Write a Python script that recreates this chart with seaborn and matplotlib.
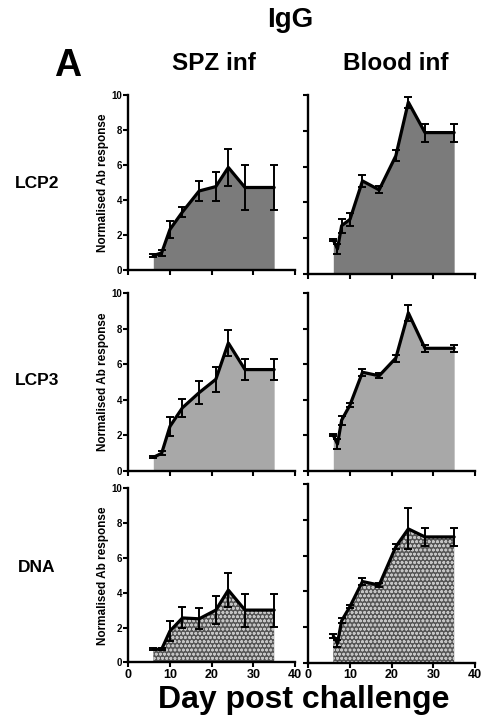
import numpy as np
import seaborn as sns
import pandas as pd
import matplotlib.pyplot as plt

sns.set_theme(style="ticks")
plt.rcParams["font.family"] = ["Liberation Sans", "DejaVu Sans"]
plt.rcParams["font.weight"] = "bold"
plt.rcParams["text.color"] = "black"
plt.rcParams["axes.labelcolor"] = "black"
plt.rcParams["xtick.color"] = "black"
plt.rcParams["ytick.color"] = "black"
plt.rcParams["hatch.linewidth"] = 0.8

# days post challenge
days_spz = [6, 8, 10, 13, 17, 21, 24, 28, 35]
days_blood = [6, 7, 8, 10, 13, 17, 21, 24, 28, 35]

# LCP2
lcp2_spz = [0.8, 0.95, 2.3, 3.3, 4.5, 4.75, 5.85, 4.7, 4.7]
lcp2_spz_err = [0.08, 0.15, 0.5, 0.3, 0.6, 0.85, 1.05, 1.3, 1.3]
lcp2_blood = [1.9, 1.4, 2.7, 3.05, 5.2, 4.7, 6.6, 9.6, 7.9, 7.9]
lcp2_blood_err = [0.08, 0.3, 0.4, 0.35, 0.35, 0.2, 0.3, 0.3, 0.5, 0.5]

# LCP3
lcp3_spz = [0.75, 0.98, 2.5, 3.55, 4.4, 5.15, 7.2, 5.7, 5.7]
lcp3_spz_err = [0.06, 0.12, 0.55, 0.5, 0.65, 0.7, 0.75, 0.6, 0.6]
lcp3_blood = [2.0, 1.5, 2.85, 3.7, 5.55, 5.35, 6.35, 8.9, 6.9, 6.9]
lcp3_blood_err = [0.06, 0.3, 0.25, 0.1, 0.2, 0.15, 0.2, 0.45, 0.2, 0.2]

# DNA
dna_spz = [0.75, 0.75, 1.8, 2.55, 2.5, 3.0, 4.15, 3.0, 3.0]
dna_spz_err = [0.05, 0.05, 0.6, 0.6, 0.6, 0.8, 1.0, 0.95, 0.95]
dna_blood = [1.5, 1.1, 2.35, 3.15, 4.55, 4.35, 6.5, 7.5, 7.05, 7.05]
dna_blood_err = [0.1, 0.2, 0.15, 0.1, 0.2, 0.1, 0.15, 1.15, 0.5, 0.5]

rows = ["LCP2", "LCP3", "DNA"]
cols = ["SPZ inf", "Blood inf"]

W, H = 482, 722
fig = plt.figure(figsize=(W / 100, H / 100), dpi=100)


def box(x0, x1, ytop, ybot):
    return [x0 / W, 1 - ybot / H, (x1 - x0) / W, (ybot - ytop) / H]


positions = [
    [box(128.3, 295, 95, 269.5), box(308.3, 475, 95, 274)],
    [box(128.3, 295, 293.3, 470.7), box(308.3, 475, 293.3, 470.7)],
    [box(128.3, 295, 488.3, 662.3), box(308.3, 475, 484.3, 662.7)],
]

panel_data = [
    [(days_spz, lcp2_spz, lcp2_spz_err), (days_blood, lcp2_blood, lcp2_blood_err)],
    [(days_spz, lcp3_spz, lcp3_spz_err), (days_blood, lcp3_blood, lcp3_blood_err)],
    [(days_spz, dna_spz, dna_spz_err), (days_blood, dna_blood, dna_blood_err)],
]

fills = ["#7b7b7b", "#a8a8a8", "#555555"]

for r in range(3):
    for c in range(2):
        ax = fig.add_axes(positions[r][c])
        d, v, e = panel_data[r][c]
        df = pd.DataFrame({"day": d, "val": v})
        if r == 2:
            ax.fill_between(d, v, facecolor=fills[r], edgecolor="#c4c4c4",
                            hatch="oooo", linewidth=0, zorder=1)
        else:
            ax.fill_between(d, v, color=fills[r], linewidth=0, zorder=1)
        sns.lineplot(data=df, x="day", y="val", ax=ax, color="black",
                     linewidth=2.3, zorder=3)
        ax.errorbar(d, v, yerr=e, fmt="none", ecolor="black", elinewidth=1.4,
                    capsize=3, capthick=1.4, zorder=4, clip_on=False)
        ax.set_xlim(0, 40)
        ax.set_ylim(0, 10)
        ax.set_xticks([0, 10, 20, 30, 40])
        ax.set_yticks([0, 2, 4, 6, 8, 10])
        sns.despine(ax=ax)
        for s in ["left", "bottom"]:
            ax.spines[s].set_linewidth(1.7)
            ax.spines[s].set_color("black")
        ax.tick_params(direction="out", length=3.5, width=1.5, color="black",
                       pad=1)
        ax.tick_params(axis="y", labelsize=7)
        ax.tick_params(axis="x", labelsize=9)
        ax.set_xlabel("")
        ax.set_ylabel("")
        if c == 0:
            ax.set_ylabel("Normalised Ab response", fontsize=8.5,
                          fontweight="bold", labelpad=2)
        else:
            ax.tick_params(axis="y", labelleft=False)
        if r < 2:
            ax.tick_params(axis="x", labelbottom=False)
        for lab in ax.get_xticklabels() + ax.get_yticklabels():
            lab.set_fontweight("bold")

fig.text(290 / W, 1 - 20 / H, "IgG", fontsize=20, fontweight="bold",
         ha="center", va="center")
fig.text(68 / W, 1 - 66 / H, "A", fontsize=27, fontweight="bold",
         ha="center", va="center")
fig.text(214 / W, 1 - 64 / H, "SPZ inf", fontsize=17.5, fontweight="bold",
         ha="center", va="center")
fig.text(396 / W, 1 - 64 / H, "Blood inf", fontsize=17.5, fontweight="bold",
         ha="center", va="center")
for lab, y in zip(rows, [183, 381, 568]):
    fig.text(37 / W, 1 - y / H, lab, fontsize=12.5, fontweight="bold",
             ha="center", va="center")
fig.text(304 / W, 1 - 700 / H, "Day post challenge", fontsize=23,
         fontweight="bold", ha="center", va="center")

fig.savefig("out.png", dpi=100)
